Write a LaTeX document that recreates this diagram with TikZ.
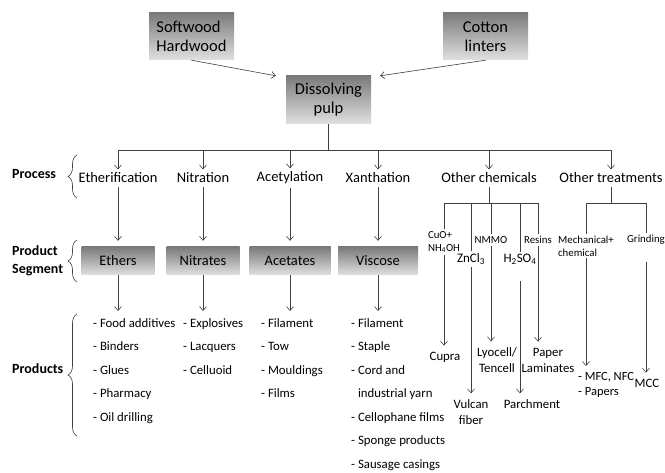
\documentclass[tikz,border=0pt]{standalone}
\usepackage{fontspec}
\setmainfont{Carlito}
\usetikzlibrary{arrows.meta,decorations.pathreplacing}

\tikzset{
  greybox/.style={top color=black!52, bottom color=black!12, inner sep=0pt},
  arr/.style={draw=black!75, line width=0.6pt, -{Straight Barb[length=4pt,width=7pt]}},
  link/.style={draw=black!75, line width=0.6pt},
  brc/.style={draw=black!75, line width=0.6pt, decorate, decoration={brace, amplitude=9pt, aspect=0.5}},
  lbl/.style={anchor=west, align=left, inner sep=0pt, font=\fontsize{14}{18}\bfseries},
  prodlist/.style={anchor=north west, align=left, inner sep=0pt, font=\fontsize{12.8}{23.5}\selectfont},
  prod/.style={align=center, inner sep=2pt, font=\fontsize{12.8}{16}\selectfont},
  small/.style={inner sep=2pt, font=\fontsize{10.8}{13}\selectfont},
  chemf/.style={inner sep=2pt, font=\fontsize{13}{16}\selectfont},
}

\begin{document}
\begin{tikzpicture}[x=1pt, y=-1pt, font=\fontsize{14.5}{17}\selectfont]
\useasboundingbox (0,0) rectangle (665,473);

% Sizes
\def\segh{28}
\def\boxw{85}
\def\boxh{47}

% Raw material and pulp
\node[greybox, minimum width=\boxw, minimum height=\boxh, align=left, font=\fontsize{16.5}{19}\selectfont]
      (wood) at (191.5,36.5) {Softwood\\Hardwood};
\node[greybox, minimum width=\boxw, minimum height=\boxh, align=center, font=\fontsize{16.5}{19}\selectfont]
      (cotton) at (485.5,36.5) {Cotton\\linters};
\node[greybox, minimum width=\boxw, minimum height=48, align=center, font=\fontsize{16.5}{19}\selectfont]
      (pulp) at (328.5,100) {Dissolving\\pulp};
\draw[arr] (wood.south) -- ([xshift=-10pt]pulp.north west);
\draw[arr] (cotton.south) -- ([xshift=9pt]pulp.north east);

% Guide levels
\coordinate (bus) at (0,150);
\coordinate (subbus) at (0,203);

% Processes
\foreach \x/\name/\text in {
118/ether/Etherification,
203/nitr/Nitration,
290/acet/Acetylation,
378/xant/Xanthation,
489/chem/Other chemicals,
611/treat/Other treatments
} {
  \node (\name) at (\x,178) {\text};
  \draw[arr] (\name.north |- bus) -- (\name.north);
}
\draw[link] (pulp.south) -- (pulp.south |- bus);
\draw[link] (ether.north |- bus) -- (treat.north |- bus);

% Product segments
\foreach \name/\src/\w/\text in {
ethers/ether/73/Ethers,
nitrates/nitr/73/Nitrates,
acetates/acet/81/Acetates,
viscose/xant/80/Viscose
} {
  \node[greybox, minimum width=\w, minimum height=\segh] (\name) at (\src |- 0,261) {\text};
  \draw[arr, shorten >=6pt] (\src.south) -- (\name.north);
}

% Products
\node[prodlist] (foodlist) at (93,318) {- Food additives\\- Binders\\- Glues\\- Pharmacy\\- Oil drilling};
\node[prodlist] (explist) at (183,318) {- Explosives\\- Lacquers\\- Celluoid};
\node[prodlist] (fillist) at (261,318) {- Filament\\- Tow\\- Mouldings\\- Films};
\node[prodlist] (vislist) at (351,318) {- Filament\\- Staple\\- Cord and\\\phantom{- }industrial yarn\\- Cellophane films\\- Sponge products\\- Sausage casings};
\foreach \seg/\lst in {ethers/foodlist, nitrates/explist, acetates/fillist, viscose/vislist} {
  \draw[arr, shorten >=7pt] (\seg.south) -- (\seg.south |- \lst.north);
}

% Left labels with braces
\node[lbl] (lproc) at (12,174) {Process};
\draw[brc] (77,198) -- (77,155);
\node[lbl] (lseg) at (12,261) {Product\\Segment};
\draw[brc] (77,282) -- (77,240);
\node[lbl] (lprod) at (12,369) {Products};
\draw[brc] (77,436) -- (77,314);

% Other chemicals
\node[small, align=left] (cuo) at (444,242) {CuO+\\NH\textsubscript{4}OH};
\node[chemf] (zncl) at (471,259) {ZnCl\textsubscript{3}};
\node[small] (nmmo) at (491,240) {NMMO};
\node[chemf] (hso) at (520,259) {H\textsubscript{2}SO\textsubscript{4}};
\node[small] (resins) at (538,240) {Resins};
\draw[link] (chem.south) -- (chem.south |- subbus);
\draw[link] (cuo.north |- subbus) -- (resins.north |- subbus);
\foreach \name in {cuo, zncl, nmmo, hso, resins} {
  \draw[link] (\name.north |- subbus) -- (\name.north);
}

\node[prod] (cupra) at (445,357) {Cupra};
\node[prod] (vulcan) at (471,412) {Vulcan\\fiber};
\node[prod] (lyocell) at (497,360) {Lyocell/\\Tencell};
\node[prod] (parch) at (532,404) {Parchment};
\node[prod] (lamin) at (548,360) {Paper\\Laminates};
\draw[arr, shorten >=4pt] (cuo.south) -- (cuo.south |- cupra.north);
\draw[arr, shorten >=4pt] (zncl.south) -- (zncl.south |- vulcan.north);
\draw[arr, shorten >=4pt] (nmmo.south) -- (nmmo.south |- lyocell.north);
\draw[arr, shorten <=15pt, shorten >=4pt] (hso.south) -- (hso.south |- parch.north);
\draw[arr, shorten >=4pt] (resins.south) -- (resins.south |- lamin.north);

% Other treatments
\node[small, align=left] (mech) at (586,246) {Mechanical+\\chemical};
\node[small] (grind) at (646,240) {Grinding};
\draw[link] (treat.south) -- (treat.south |- subbus);
\draw[link] (mech.north |- subbus) -- (grind.north |- subbus);
\foreach \name in {mech, grind} {
  \draw[link] (\name.north |- subbus) -- (\name.north);
}
\node[prod, anchor=north west, align=left, inner sep=0pt, font=\fontsize{12.5}{15}\selectfont]
      (mfc) at (578,372) {- MFC, NFC\\- Papers};
\node[prod] (mcc) at (647,383) {MCC};
\draw[arr, shorten >=6pt] (mech.south) -- (mech.south |- mfc.north);
\draw[arr, shorten <=15pt, shorten >=4pt] (grind.south) -- (grind.south |- mcc.north);

\end{tikzpicture}
\end{document}
